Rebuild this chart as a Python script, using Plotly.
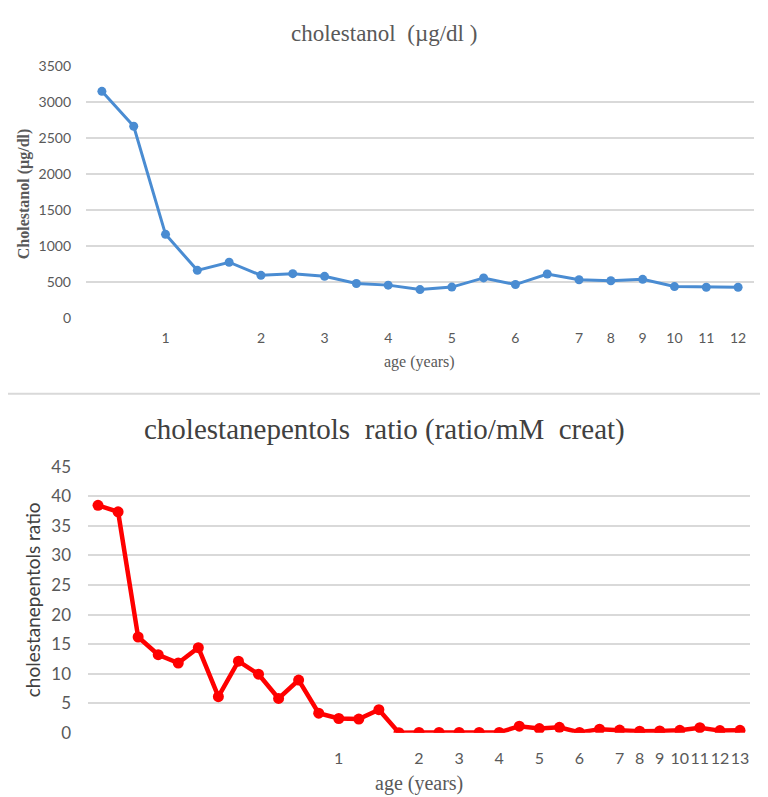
import plotly.graph_objects as go

# ---- data ----
chol_ticks = ["", "", "1", "", "", "2", "", "3", "", "4", "", "5", "", "6", "", "7", "8", "9", "10", "11", "12"]
chol_values = [3145, 2660, 1160, 660, 773, 591, 614, 577, 477, 455, 393, 428, 555, 463, 610, 530, 515, 535, 435, 425, 425]

pent_ticks = ["", "", "", "", "", "", "", "", "", "", "", "", "1", "", "", "", "2", "", "3", "", "4", "", "5", "", "6", "", "7", "8", "9", "10", "11", "12", "13"]
pent_values = [38.5, 37.4, 16.2, 13.2, 11.8, 14.4, 6.1, 12.1, 9.9, 5.8, 8.9, 3.3, 2.4, 2.3, 3.9,
               0.0, 0.05, 0.05, 0.05, 0.05, 0.05,
               1.1, 0.7, 0.9, 0.05, 0.6, 0.45, 0.25, 0.3, 0.4, 0.85, 0.35, 0.4]

top_title = "cholestanol  (µg/dl )"
bot_title = "cholestanepentols  ratio (ratio/mM  creat)"
top_ytitle = "Cholestanol (µg/dl)"
bot_ytitle = "cholestanepentols ratio"
xtitle = "age (years)"

W, H = 768, 797
def py(p):  # pixel-from-top to paper fraction
    return 1 - p / H
def px(p):
    return p / W

BLUE = "#4A8CD2"
RED = "#FF0000"
GRID = "#D9D9D9"
TXT = "#595959"
SANS = "Lato, Carlito, 'Liberation Sans', sans-serif"
SERIF = "'Liberation Serif', 'Times New Roman', serif"

fig = go.Figure()

x1 = list(range(len(chol_values)))
x2 = list(range(len(pent_values)))

fig.add_trace(go.Scatter(x=x1, y=chol_values, mode="lines+markers",
                         line=dict(color=BLUE, width=3),
                         marker=dict(color=BLUE, size=9),
                         xaxis="x", yaxis="y", showlegend=False))
fig.add_trace(go.Scatter(x=x2, y=pent_values, mode="lines+markers",
                         line=dict(color=RED, width=4.5),
                         marker=dict(color=RED, size=11),
                         xaxis="x2", yaxis="y2", showlegend=False))

tv1 = [i for i, t in enumerate(chol_ticks) if t]
tt1 = [t for t in chol_ticks if t]
tv2 = [i for i, t in enumerate(pent_ticks) if t]
tt2 = [t for t in pent_ticks if t]

fig.update_layout(
    width=W, height=H,
    margin=dict(l=0, r=0, t=0, b=0),
    paper_bgcolor="white", plot_bgcolor="white",
    xaxis=dict(domain=[px(78), px(746)], range=[-0.5, len(chol_values) - 0.5],
               tickmode="array", tickvals=tv1, ticktext=tt1, tickangle=0,
               showgrid=False, zeroline=False, showline=False, ticks="",
               tickfont=dict(family=SANS, size=14, color=TXT),
               ticklabelstandoff=10, anchor="y"),
    yaxis=dict(domain=[py(307), py(48)], range=[0, 3500], dtick=500,
               showgrid=True, gridcolor=GRID, gridwidth=1.5, zeroline=False,
               showline=False, ticks="",
               tickfont=dict(family=SANS, size=14, color=TXT),
               ticklabelstandoff=14, anchor="x"),
    xaxis2=dict(domain=[px(80), px(742)], range=[-0.5, len(pent_values) - 0.5],
                tickmode="array", tickvals=tv2, ticktext=tt2, tickangle=0,
                showgrid=False, zeroline=False, showline=False, ticks="",
                tickfont=dict(family=SANS, size=16, color=TXT),
                ticklabelstandoff=14, anchor="y2"),
    yaxis2=dict(domain=[py(733), py(460)], range=[0, 45], dtick=5,
                showgrid=True, gridcolor=GRID, gridwidth=2, zeroline=False,
                showline=False, ticks="",
                tickfont=dict(family=SANS, size=17, color=TXT),
                ticklabelstandoff=16, anchor="x2"),
    shapes=[dict(type="line", xref="paper", yref="paper", x0=0, x1=1,
                 y0=py(385), y1=py(385), line=dict(color=GRID, width=2))],
    annotations=[
        dict(text=top_title, x=px(376), y=py(15), xref="paper", yref="paper",
             showarrow=False, xanchor="center", yanchor="middle",
             font=dict(family=SERIF, size=23, color=TXT)),
        dict(text=bot_title, x=px(376), y=py(422), xref="paper", yref="paper",
             showarrow=False, xanchor="center", yanchor="middle",
             font=dict(family=SERIF, size=29, color="#404040")),
        dict(text=xtitle, x=px(411), y=py(352), xref="paper", yref="paper",
             showarrow=False, xanchor="center", yanchor="middle",
             font=dict(family=SERIF, size=16, color=TXT)),
        dict(text=xtitle, x=px(411), y=py(785), xref="paper", yref="paper",
             showarrow=False, xanchor="center", yanchor="middle",
             font=dict(family=SERIF, size=20, color=TXT)),
        dict(text="<b>" + top_ytitle + "</b>", x=px(16), y=py(180), xref="paper", yref="paper",
             showarrow=False, xanchor="center", yanchor="middle", textangle=-90,
             font=dict(family=SERIF, size=16, color=TXT)),
        dict(text=bot_ytitle, x=px(24), y=py(597), xref="paper", yref="paper",
             showarrow=False, xanchor="center", yanchor="middle", textangle=-90,
             font=dict(family=SANS, size=19, color="#404040")),
    ],
)

fig.write_html("out.html")
